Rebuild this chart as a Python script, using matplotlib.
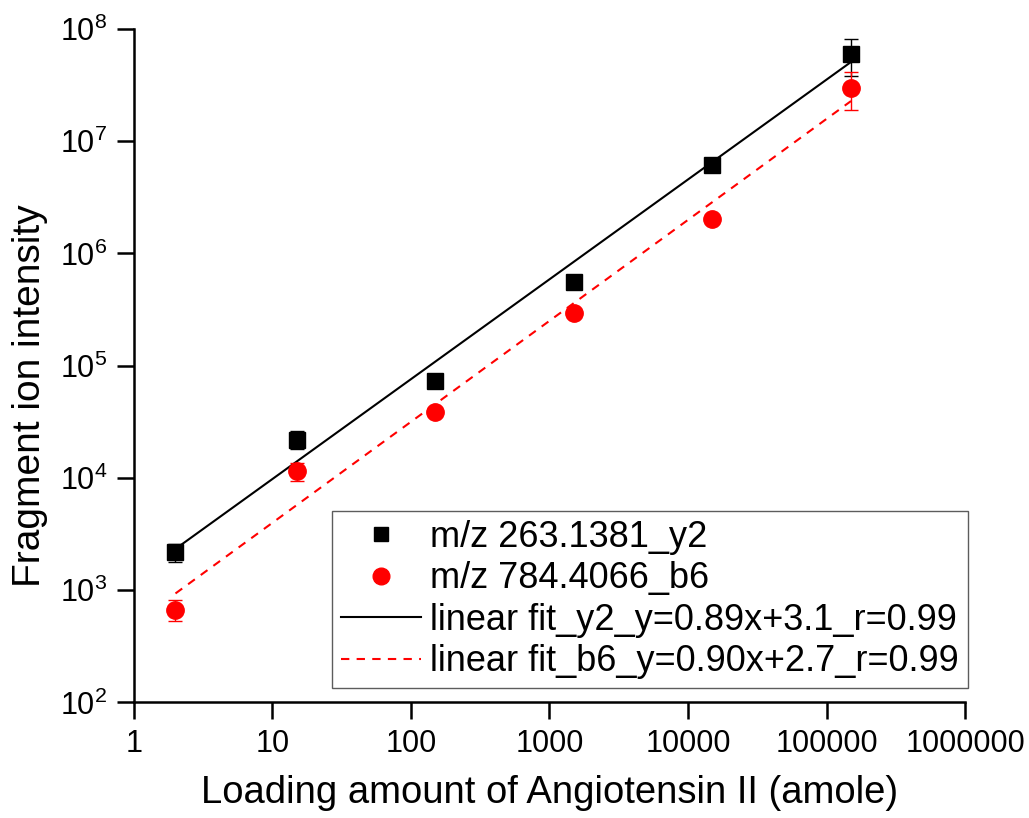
"""Fragment ion intensity vs loading amount, log-log with linear fits"""

import matplotlib
matplotlib.use("Agg")
import matplotlib.pyplot as plt
from matplotlib.lines import Line2D
import numpy as np

plt.rcParams["font.family"] = ["Liberation Sans", "DejaVu Sans"]
plt.rcParams["mathtext.fontset"] = "custom"
plt.rcParams["mathtext.rm"] = "Liberation Sans"

# loading amount (amole)
amount = [2, 15, 150, 1500, 15000, 150000]

# m/z 263.1381_y2
y2_int = [2200, 22000, 73000, 560000, 6.2e6, 6.0e7]
y2_err = [400, 4000, 0, 0, 0, 2.2e7]

# m/z 784.4066_b6
b6_int = [670, 11500, 39000, 295000, 2.05e6, 3.0e7]
b6_err = [140, 2200, 0, 0, 0, 1.1e7]

# log-log fits: log10(y) = slope * log10(x) + icpt
fit_y2 = (0.89, 3.1)
fit_b6 = (0.90, 2.7)

labels = ["m/z 263.1381_y2", "m/z 784.4066_b6",
          "linear fit_y2_y=0.89x+3.1_r=0.99", "linear fit_b6_y=0.90x+2.7_r=0.99"]

x_ticks = [1, 10, 100, 1000, 10000, 100000, 1000000]
x_tick_labels = ["1", "10", "100", "1000", "10000", "100000", "1000000"]

fig = plt.figure(figsize=(10.29, 8.18), dpi=100)
ax = fig.add_axes([0.130, 0.1413, 0.808, 0.8232])

ax.errorbar(amount, y2_int, yerr=y2_err, fmt="s", color="black", ms=11,
            capsize=5, elinewidth=1.0, capthick=1.0, zorder=3)
ax.errorbar(amount, b6_int, yerr=b6_err, fmt="o", color="red", ms=12.5,
            capsize=5, elinewidth=1.0, capthick=1.0, zorder=3)

xs = np.array([amount[0], amount[-1]], dtype=float)
ax.plot(xs, 10 ** (fit_y2[0] * np.log10(xs) + fit_y2[1]), color="black", lw=1.5)
ax.plot(xs, 10 ** (fit_b6[0] * np.log10(xs) + fit_b6[1]), color="red",
        lw=1.5, ls=(0, (4, 3.5)))

ax.set_xscale("log")
ax.set_yscale("log")
ax.set_xlim(1, 1e6)
ax.set_ylim(1e2, 1e8)
ax.set_xticks(x_ticks)
ax.set_xticklabels(x_tick_labels)
ax.minorticks_off()

for side in ("top", "right"):
    ax.spines[side].set_visible(False)
for side in ("left", "bottom"):
    ax.spines[side].set_linewidth(1.8)
ax.tick_params(direction="out", length=12, width=1.8, labelsize=22, pad=7)

ax.set_xlabel("Loading amount of Angiotensin II (amole)", fontsize=27.5, labelpad=12)
ax.set_ylabel("Fragment ion intensity", fontsize=28)
ax.yaxis.set_label_coords(-0.103, 0.455)

# legend shows bare markers, no error bars
handles = [
    Line2D([], [], ls="none", marker="s", color="black", ms=10.5),
    Line2D([], [], ls="none", marker="o", color="red", ms=12),
    Line2D([], [], color="black", lw=1.5),
    Line2D([], [], color="red", lw=1.5, ls=(0, (4, 3.5))),
]
leg = ax.legend(handles, labels, loc="lower right", bbox_to_anchor=(1.003, 0.021),
                borderaxespad=0, fontsize=26, frameon=True, fancybox=False,
                edgecolor="#333333", handlelength=2.2, handletextpad=0.25,
                labelspacing=0.18, borderpad=0.25)
leg.get_frame().set_linewidth(1.0)

fig.savefig("out.png", dpi=100)
